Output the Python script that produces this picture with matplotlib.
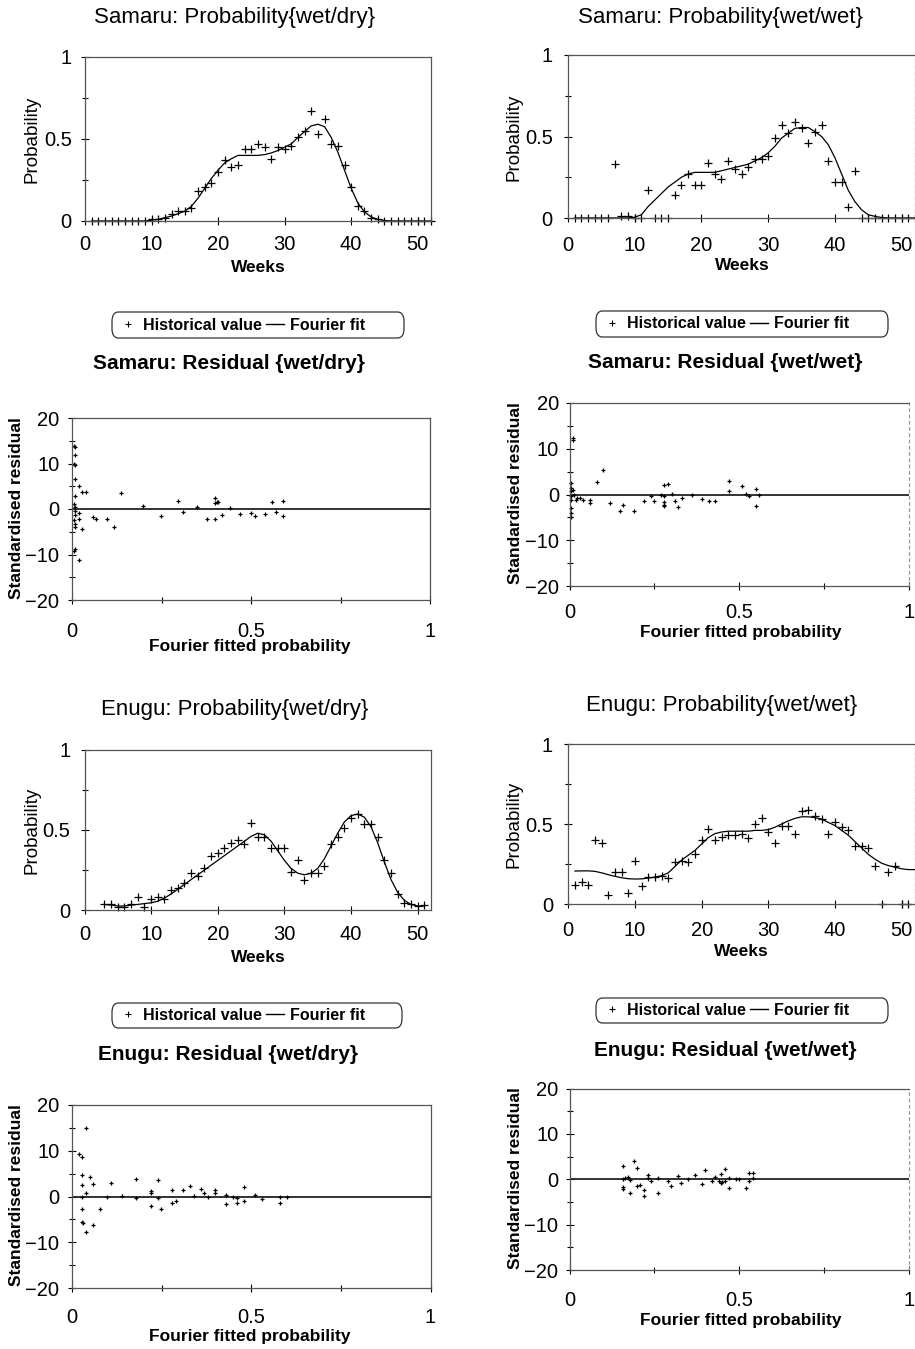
import matplotlib
matplotlib.use('Agg')
import matplotlib.pyplot as plt
from matplotlib.lines import Line2D
from matplotlib.patches import FancyBboxPatch
import numpy as np

plt.rcParams['font.family'] = ['Liberation Sans', 'DejaVu Sans']

W, H = 915, 1349

# ---------------- data ----------------
weeks = list(range(1, 53))

samaru_wd_hist = [0, 0, 0, 0, 0, 0, 0, 0, 0,
                  0.01, 0.015, 0.02, 0.04, 0.06, 0.06, 0.08, 0.18, 0.21, 0.23,
                  0.30, 0.37, 0.33, 0.34, 0.44, 0.44, 0.47, 0.45, 0.38, 0.45,
                  0.44, 0.46, 0.51, 0.55, 0.67, 0.53, 0.62, 0.47, 0.46, 0.34,
                  0.21, 0.09, 0.06, 0.02, 0.01,
                  0, 0, 0, 0, 0, 0, 0, 0]
samaru_wd_fit = [0, 0, 0, 0, 0, 0, 0, 0, 0,
                 0.005, 0.01, 0.02, 0.03, 0.045, 0.06, 0.09, 0.14, 0.20, 0.26,
                 0.31, 0.355, 0.38, 0.40, 0.40, 0.40, 0.40, 0.405, 0.415, 0.43,
                 0.45, 0.47, 0.51, 0.545, 0.58, 0.59, 0.575, 0.51, 0.42, 0.31,
                 0.20, 0.11, 0.055, 0.025, 0.01, 0.003,
                 0, 0, 0, 0, 0, 0, 0]

samaru_ww_hist = [0, 0, 0, 0, 0, 0, 0.33, 0.01, 0.01, 0, 0, 0.17, 0, 0, 0,
                  0.14, 0.20, 0.27, 0.20, 0.20, 0.34, 0.27, 0.24, 0.35, 0.30,
                  0.27, 0.31, 0.36, 0.36, 0.38, 0.49, 0.57, 0.52, 0.59, 0.55,
                  0.46, 0.53, 0.57, 0.35, 0.22, 0.22, 0.07, 0.29,
                  0, 0, 0, 0, 0, 0, 0, 0, 0]
samaru_ww_fit = [0, 0, 0, 0, 0, 0, 0, 0, 0,
                 0.005, 0.02, 0.07, 0.11, 0.15, 0.19, 0.22, 0.25, 0.27, 0.28,
                 0.28, 0.28, 0.28, 0.29, 0.30, 0.31, 0.32, 0.33, 0.35, 0.37,
                 0.40, 0.44, 0.49, 0.52, 0.55, 0.555, 0.555, 0.53, 0.50, 0.45,
                 0.37, 0.27, 0.17, 0.10, 0.05, 0.02, 0.01, 0.003,
                 0, 0, 0, 0, 0]

samaru_wd_res_x = [0.006, 0.008, 0.007, 0.006, 0.008, 0.007, 0.008, 0.006, 0.009,
                   0.007, 0.008, 0.006, 0.008, 0.007, 0.008, 0.006,
                   0.019, 0.019, 0.019, 0.019, 0.028, 0.028, 0.038, 0.059, 0.068,
                   0.099, 0.117, 0.138, 0.199, 0.248, 0.297, 0.309, 0.349, 0.377,
                   0.399, 0.399, 0.399, 0.406, 0.409, 0.419, 0.44, 0.469, 0.5,
                   0.51, 0.54, 0.559, 0.57, 0.59, 0.59]
samaru_wd_res_y = [13.9, 13.6, 11.9, 10.0, 9.7, 6.5, 2.8, 1.2, 0.4,
                   -0.4, -1.4, -2.5, -3.2, -4.0, -8.9, -9.2,
                   5.0, -0.9, -2.1, -11.1, 3.7, -4.3, 3.8, -1.8, -2.1,
                   -2.3, -4.0, 3.5, 0.7, -1.5, 1.7, -0.6, 0.4, -2.3,
                   2.4, 1.3, -2.3, 1.5, 1.6, -1.4, 0.2, -1.1, -0.9,
                   -1.5, -1.1, 1.5, -0.7, 1.8, -1.5]

samaru_ww_res_x = [0.003, 0.003, 0.003, 0.003, 0.003, 0.003, 0.003, 0.003,
                   0.009, 0.009, 0.009, 0.012, 0.019, 0.023, 0.031, 0.041, 0.06,
                   0.06, 0.081, 0.098, 0.12, 0.15, 0.159, 0.189, 0.22, 0.239,
                   0.249, 0.27, 0.279, 0.291, 0.279, 0.279, 0.279, 0.279, 0.301,
                   0.31, 0.32, 0.33, 0.361, 0.389, 0.41, 0.43, 0.469, 0.469,
                   0.509, 0.521, 0.53, 0.549, 0.549, 0.559]
samaru_ww_res_y = [2.5, 1.5, 0.8, -0.3, -1.3, -3.0, -4.0, -5.0,
                   12.3, 12.0, 0.9, -0.2, -1.1, -0.8, -0.7, -1.3, -1.3,
                   -1.8, 2.7, 5.4, -1.8, -3.7, -2.3, -3.7, -1.5, -0.4,
                   -1.5, 0.0, 2.1, 2.3, -0.4, -1.7, -2.4, -2.6, 0.1,
                   -1.5, -2.8, -0.7, 0.0, -1.0, -1.5, -1.5, 2.9, 0.7,
                   1.8, 0.1, -0.4, 1.1, -2.6, -0.1]

enugu_wd_weeks = list(range(3, 52))
enugu_wd_hist = [0.04, 0.035, 0.017, 0.017, 0.04, 0.083, 0.02, 0.07, 0.083, 0.07,
                 0.127, 0.14, 0.17, 0.23, 0.21, 0.265, 0.34, 0.355, 0.39, 0.42,
                 0.44, 0.41, 0.545, 0.455, 0.455, 0.385, 0.385, 0.385, 0.24, 0.31,
                 0.19, 0.23, 0.23, 0.275, 0.41, 0.455, 0.51, 0.575, 0.60, 0.535,
                 0.535, 0.455, 0.31, 0.23, 0.10, 0.046, 0.04, 0.027, 0.03]
enugu_wd_fit = [0.035, 0.03, 0.025, 0.025, 0.03, 0.035, 0.04, 0.045, 0.055, 0.075,
                0.10, 0.13, 0.16, 0.19, 0.22, 0.25, 0.28, 0.31, 0.34, 0.37,
                0.40, 0.43, 0.46, 0.48, 0.47, 0.43, 0.37, 0.31, 0.26, 0.23,
                0.22, 0.23, 0.26, 0.32, 0.40, 0.48, 0.55, 0.59, 0.60, 0.58,
                0.52, 0.42, 0.30, 0.19, 0.11, 0.06, 0.035, 0.025, 0.025]

enugu_ww_weeks = list(range(1, 52))
enugu_ww_hist = [0.12, 0.14, 0.12, 0.40, 0.38, 0.056, 0.20, 0.20, 0.067, 0.27,
                 0.11, 0.167, 0.167, 0.177, 0.16, 0.26, 0.27, 0.26, 0.31, 0.40,
                 0.47, 0.40, 0.42, 0.43, 0.43, 0.44, 0.41, 0.50, 0.54, 0.45,
                 0.38, 0.49, 0.49, 0.44, 0.58, 0.59, 0.55, 0.53, 0.44, 0.51,
                 0.48, 0.46, 0.36, 0.36, 0.35, 0.24, 0.0, 0.20, 0.24, 0.0, 0.0]
enugu_ww_fit = [0.206, 0.207, 0.207, 0.204, 0.195, 0.183, 0.173, 0.164, 0.158, 0.156,
                0.157, 0.162, 0.168, 0.177, 0.195, 0.235, 0.275, 0.305, 0.335, 0.375,
                0.415, 0.44, 0.45, 0.455, 0.455, 0.455, 0.455, 0.46, 0.46, 0.465,
                0.48, 0.50, 0.52, 0.535, 0.545, 0.545, 0.54, 0.53, 0.51, 0.49,
                0.46, 0.43, 0.39, 0.35, 0.31, 0.28, 0.255, 0.24, 0.23, 0.22,
                0.215, 0.215]

enugu_wd_res_x = [0.020, 0.029, 0.038, 0.029, 0.049, 0.029, 0.059, 0.038, 0.029,
                  0.029, 0.029, 0.030, 0.038, 0.059, 0.078, 0.099, 0.109, 0.139,
                  0.179, 0.179, 0.219, 0.219, 0.219, 0.239, 0.239, 0.249, 0.279,
                  0.279, 0.289, 0.309, 0.329, 0.339, 0.359, 0.369, 0.380, 0.399,
                  0.399, 0.429, 0.429, 0.449, 0.460, 0.460, 0.479, 0.479, 0.510,
                  0.529, 0.580, 0.580, 0.599]
enugu_wd_res_y = [9.2, 8.7, 14.9, 4.6, 4.2, 2.5, 2.8, 0.7, 0.0,
                  -2.8, -5.5, -5.7, -7.8, -6.3, -2.8, -0.1, 2.9, 0.2,
                  3.9, -0.4, 1.2, 0.8, -2.1, 3.5, -0.4, -2.8, 1.5,
                  -1.5, -0.9, 1.4, 2.3, 0.2, 1.7, 0.8, -0.1, 1.5,
                  0.7, 0.3, -1.7, -0.1, -0.3, -1.5, 2.0, -1.0, 0.4,
                  -0.6, -0.2, -1.4, -0.1]

enugu_ww_res_x = [0.158, 0.189, 0.2, 0.158, 0.163, 0.171, 0.179, 0.158, 0.158,
                  0.179, 0.2, 0.209, 0.22, 0.22, 0.23, 0.23, 0.239, 0.26, 0.26,
                  0.29, 0.299, 0.319, 0.329, 0.349, 0.37, 0.389, 0.399, 0.419,
                  0.43, 0.439, 0.446, 0.446, 0.45, 0.458, 0.458, 0.469, 0.469,
                  0.489, 0.499, 0.519, 0.528, 0.54, 0.53, 0.54]
enugu_ww_res_y = [3.0, 4.0, 2.5, 0.1, 0.2, 0.6, -0.1, -1.8, -2.2,
                  -3.0, -1.4, -1.2, -2.3, -3.6, 0.9, 0.2, -0.4, 0.2, -3.0,
                  -0.4, -1.4, 0.7, -0.9, 0.0, 0.9, -1.1, 2.0, -0.4,
                  0.6, -0.3, 1.2, -0.9, -0.6, 2.2, -0.3, 0.2, -2.0,
                  0.0, 0.0, -2.0, 1.3, 1.3, -0.3, 0.2]

prob_ticks = [0, 0.5, 1]
prob_ticklabels = ['0', '0.5', '1']
week_ticks = [0, 10, 20, 30, 40, 50]
res_yticks = [-20, -10, 0, 10, 20]
res_xticks = [0, 0.5, 1]
res_xticklabels = ['0', '0.5', '1']
legend_labels = ['Historical value', 'Fourier fit']

# ---------------- layout helpers ----------------
fig = plt.figure(figsize=(W / 100, H / 100), dpi=100)


def rect(l, r, t, b):
    return [l / W, 1 - b / H, (r - l) / W, (b - t) / H]


def fx(px):
    return px / W


def fy(py):
    return 1 - py / H


def style_axes(ax, right_edge=False):
    for s in ax.spines.values():
        s.set_color('#555555')
        s.set_linewidth(0.9)
    if right_edge:
        ax.spines['right'].set_linestyle((0, (2, 3)))
        ax.spines['right'].set_color('#999999')
    ax.tick_params(direction='inout', length=6, width=0.8, colors='black',
                   labelsize=14.5, which='major')
    ax.tick_params(direction='inout', length=5, width=0.8, which='minor')
    ax.tick_params(top=False, right=False, which='both')


def prob_panel(r, title, tpos, xlab_pos, ylab_pos, x_h, y_h, x_f, y_f,
               xpad, ypad, right_edge=False):
    ax = fig.add_axes(rect(*r))
    ax.plot(x_f, y_f, color='black', lw=0.9)
    ax.plot(x_h, y_h, ls='none', marker='+', ms=6, mew=0.9, color='black',
            clip_on=False)
    ax.set_xlim(0, 52)
    ax.set_ylim(0, 1)
    ax.set_xticks(week_ticks)
    ax.set_yticks(prob_ticks)
    ax.set_yticklabels(prob_ticklabels)
    ax.set_yticks([0.25, 0.75], minor=True)
    style_axes(ax, right_edge)
    ax.tick_params(axis='x', pad=xpad)
    ax.tick_params(axis='y', pad=ypad)
    fig.text(fx(tpos[0]), fy(tpos[1]), title, ha='center', va='center',
             fontsize=16)
    l, rr, t, b = r
    ax.set_xlabel('Weeks', fontsize=12.5, fontweight='bold')
    ax.xaxis.set_label_coords((xlab_pos[0] - l) / (rr - l),
                              -(xlab_pos[1] - b) / (b - t))
    ax.xaxis.label.set_verticalalignment('center')
    ax.set_ylabel('Probability', fontsize=13.5)
    ax.yaxis.set_label_coords((ylab_pos[0] - l) / (rr - l),
                              (b - ylab_pos[1]) / (b - t))
    ax.yaxis.label.set_verticalalignment('center')
    return ax


def res_panel(r, title, tpos, xlab_pos, ylab_pos, x, y, xpad, ypad,
              right_edge=False):
    ax = fig.add_axes(rect(*r))
    ax.axhline(0, color='#222222', lw=1.3)
    ax.plot(x, y, ls='none', marker='+', ms=3.5, mew=0.9, color='black',
            clip_on=False)
    ax.set_xlim(0, 1)
    ax.set_ylim(-20, 20)
    ax.set_xticks(res_xticks)
    ax.set_xticklabels(res_xticklabels)
    ax.set_xticks([0.25, 0.75], minor=True)
    ax.set_yticks(res_yticks)
    ax.set_yticks([-15, -5, 5, 15], minor=True)
    style_axes(ax, right_edge)
    ax.tick_params(axis='x', pad=xpad)
    ax.tick_params(axis='y', pad=ypad)
    fig.text(fx(tpos[0]), fy(tpos[1]), title, ha='center', va='center',
             fontsize=15, fontweight='bold')
    l, rr, t, b = r
    ax.set_xlabel('Fourier fitted probability', fontsize=12.5, fontweight='bold')
    ax.xaxis.set_label_coords((xlab_pos[0] - l) / (rr - l),
                              -(xlab_pos[1] - b) / (b - t))
    ax.xaxis.label.set_verticalalignment('center')
    ax.set_ylabel('Standardised residual', fontsize=12.5, fontweight='bold')
    ax.yaxis.set_label_coords((ylab_pos[0] - l) / (rr - l),
                              (b - ylab_pos[1]) / (b - t))
    ax.yaxis.label.set_verticalalignment('center')
    return ax


def add_legend(x0, x1, y0, y1):
    box = FancyBboxPatch((fx(x0), fy(y1)), fx(x1) - fx(x0), fy(y0) - fy(y1),
                         boxstyle='round,pad=0,rounding_size=0.007',
                         transform=fig.transFigure, facecolor='white',
                         edgecolor='#333333', linewidth=0.9)
    fig.patches.append(box)
    handles = [Line2D([], [], ls='none', marker='+', ms=4, mew=0.8, color='black'),
               Line2D([], [], color='black', lw=1.0)]
    leg = fig.legend(handles, legend_labels, loc='center left',
                     bbox_to_anchor=(fx(x0 - 6), fy((y0 + y1) / 2)), ncol=2,
                     frameon=False, handlelength=1.1, handletextpad=0.4,
                     columnspacing=0.3, borderpad=0.3,
                     prop={'weight': 'bold', 'size': 11.5})
    return leg


# ---------------- panels ----------------
prob_panel((85, 431, 57, 221), 'Samaru: Probability{wet/dry}', (235, 18),
           (258, 268), (32, 139), weeks, samaru_wd_hist, weeks, samaru_wd_fit,
           xpad=7, ypad=6.5)
prob_panel((568, 915, 55, 218), 'Samaru: Probability{wet/wet}', (720, 18),
           (742, 266), (514, 137), weeks, samaru_ww_hist, weeks, samaru_ww_fit,
           xpad=10, ypad=8, right_edge=True)
add_legend(112, 404, 312, 338)
add_legend(596, 888, 311, 337)
res_panel((72, 430, 418, 600), 'Samaru: Residual {wet/dry}', (229, 364),
          (250, 647), (17, 508), samaru_wd_res_x, samaru_wd_res_y,
          xpad=12.5, ypad=6)
res_panel((569.5, 909, 403, 586), 'Samaru: Residual {wet/wet}', (725, 362),
          (741, 633), (515, 493), samaru_ww_res_x, samaru_ww_res_y,
          xpad=9, ypad=4.5, right_edge=True)

prob_panel((84.5, 431, 750, 910), 'Enugu: Probability{wet/dry}', (235, 709),
           (258, 957), (32, 830), enugu_wd_weeks, enugu_wd_hist,
           enugu_wd_weeks, enugu_wd_fit, xpad=7.5, ypad=7)
prob_panel((568.3, 915, 744, 904), 'Enugu: Probability{wet/wet}', (722, 705),
           (741, 952), (514, 824), enugu_ww_weeks, enugu_ww_hist,
           weeks, enugu_ww_fit, xpad=9, ypad=8, right_edge=True)
add_legend(112, 402, 1003, 1028)
add_legend(596, 888, 998, 1023)
res_panel((72, 430.5, 1105, 1288), 'Enugu: Residual {wet/dry}', (228, 1055),
          (250, 1336), (17, 1195), enugu_wd_res_x, enugu_wd_res_y,
          xpad=11.5, ypad=6)
res_panel((569.5, 909, 1088.5, 1270), 'Enugu: Residual {wet/wet}', (725, 1050),
          (741, 1320), (515, 1178), enugu_ww_res_x, enugu_ww_res_y,
          xpad=12, ypad=5, right_edge=True)

fig.savefig('out.png', dpi=100)
